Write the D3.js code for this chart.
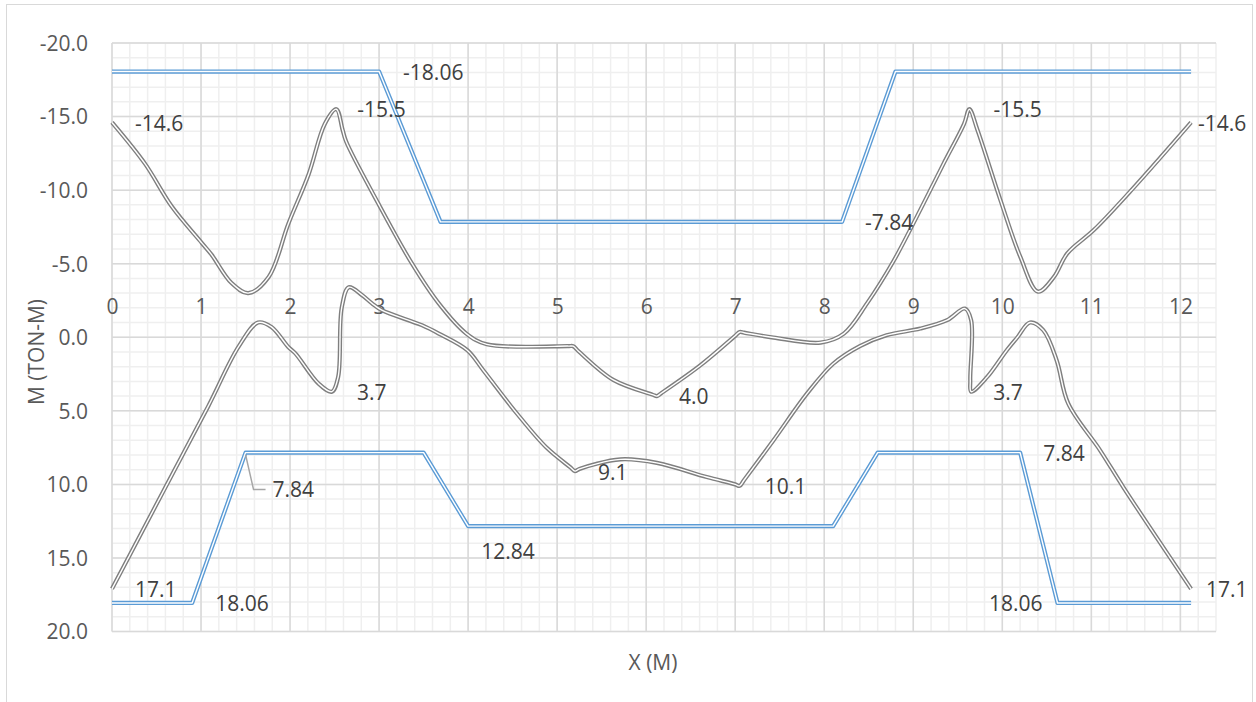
<!DOCTYPE html>
<html>
<head>
<meta charset="utf-8">
<script src="https://cdn.jsdelivr.net/npm/d3@7"></script>
<style>
  html, body { margin: 0; padding: 0; background: #fff; }
  svg { display: block; }
  text { font-family: "Open Sans", "Noto Sans", sans-serif; }
</style>
</head>
<body>
<svg id="chart" width="1256" height="702"></svg>
<script>
// ---- data -------------------------------------------------------------
// Envelope of negative moments (upper design line), X in m, M in ton-m
const envTopX = [0, 3.0, 3.69, 8.2, 8.8, 12.12];
const envTopM = [-18.06, -18.06, -7.84, -7.84, -18.06, -18.06];

// Envelope of positive moments (lower design line)
const envBotX = [0, 0.9, 1.5, 3.5, 4.0, 8.1, 8.6, 10.2, 10.62, 12.12];
const envBotM = [18.06, 18.06, 7.84, 7.84, 12.84, 12.84, 7.84, 7.84, 18.06, 18.06];

// Bending moment curve, upper branch
const curveAX = [0, 0.37, 0.67, 1.01, 1.12, 1.34, 1.53, 1.76, 1.98, 2.21, 2.39, 2.52, 2.59, 2.63,
  2.99, 3.37, 3.67, 3.98, 4.21, 5.13, 5.18, 5.24, 5.63, 6.07, 6.12, 6.17, 6.61, 7.0, 7.05, 7.1,
  7.43, 7.96, 8.22, 8.48, 8.78, 9.04, 9.34, 9.57, 9.63, 9.72, 9.98, 10.2, 10.40, 10.58, 10.73,
  11.03, 11.48, 12.12];
const curveAM = [-14.6, -11.8, -8.9, -6.4, -5.6, -3.7, -3.0, -4.1, -7.7, -11.1, -14.5, -15.5, -14.1, -13.3,
  -9.1, -5.0, -2.3, -0.25, 0.48, 0.6, 0.61, 0.95, 2.9, 3.9, 4.0, 3.8, 1.9, -0.1, -0.36, -0.31,
  0.02, 0.36, -0.25, -2.3, -5.2, -8.2, -11.8, -14.5, -15.5, -14.1, -9.3, -5.5, -3.1, -4.1, -5.7,
  -7.3, -10.2, -14.6];

// Bending moment curve, lower branch
const curveBX = [0, 0.6, 1.08, 1.42, 1.64, 1.79, 1.98, 2.06, 2.32, 2.47, 2.54, 2.58, 2.66, 2.81,
  2.92, 3.03, 3.48, 3.67, 3.99, 4.17, 4.55, 4.88, 5.15, 5.2, 5.25, 5.71, 6.12, 6.68, 7.0, 7.05,
  7.1, 7.43, 7.81, 8.10, 8.40, 8.70, 9.08, 9.38, 9.58, 9.65, 9.64, 9.65, 9.83, 10.05, 10.17,
  10.31, 10.46, 10.61, 10.74, 11.1, 11.36, 12.12];
const curveBM = [17.1, 10.2, 4.7, 0.66, -1.0, -0.7, 0.66, 1.1, 3.15, 3.7, 2.7, -2.0, -3.4, -2.86,
  -2.3, -1.84, -0.82, -0.25, 0.88, 2.24, 5.2, 7.5, 8.85, 9.1, 8.95, 8.3, 8.54, 9.5, 10.0, 10.1,
  9.7, 7.0, 3.8, 1.8, 0.6, -0.14, -0.59, -1.16, -1.95, -1.16, 2.9, 3.7, 2.7, 0.88, 0.0,
  -1.0, -0.48, 1.56, 4.5, 7.7, 10.2, 17.1];

// Value labels: text, anchor X (m), anchor M (ton-m)
const labelText = ["-14.6", "-15.5", "-18.06", "3.7", "-7.84", "-15.5", "-14.6", "3.7", "7.84",
  "17.1", "18.06", "17.1", "18.06", "7.84", "12.84", "9.1", "10.1", "4.0"];
const labelX = [0, 2.52, 3.0, 2.47, 8.2, 9.63, 12.12, 9.65, 10.2,
  12.12, 10.62, 0, 0.9, 1.5, 4.0, 5.2, 7.05, 6.12];
const labelM = [-14.6, -15.5, -18.06, 3.7, -7.84, -15.5, -14.6, 3.7, 7.84,
  17.1, 18.06, 17.1, 18.06, 7.84, 12.84, 9.1, 10.1, 4.0];

// Axis ticks
const xTicks = [0, 1, 2, 3, 4, 5, 6, 7, 8, 9, 10, 11, 12];
const yTicks = [-20, -15, -10, -5, 0, 5, 10, 15, 20];

// ---- layout ----------------------------------------------------------
const plot = { left: 112, top: 43, right: 1216, bottom: 631.5 };
// label offsets in px from their anchor point [dx, dy, anchor]
const labelOffset = [
  [23, 1, "start"], [21, 0, "start"], [24, 1, "start"], [25, 1, "start"], [23, 1, "start"],
  [24, 0, "start"], [7, 1, "start"], [22, 1, "start"], [23, 1, "start"],
  [15, 1, "start"], [-15, 1, "end"], [23, 1, "start"], [23, 1, "start"], [27, 37, "start"],
  [13, 25, "start"], [23, 2, "start"], [25, 1, "start"], [22, 1, "start"]
];

const svg = d3.select("#chart");

// chart area frame
svg.append("rect")
  .attr("x", 6.5).attr("y", 4.5).attr("width", 1246).attr("height", 720)
  .attr("fill", "#fff").attr("stroke", "#d9d9d9").attr("stroke-width", 1);

const x = d3.scaleLinear().domain([0, 12.4]).range([plot.left, plot.right]);
const y = d3.scaleLinear().domain([-20, 20]).range([plot.top, plot.bottom]);

// gridlines
const grid = svg.append("g");
const xMinor = d3.range(0, 12.4001, 0.2).map(v => +v.toFixed(1));
const yMinor = d3.range(-20, 20.001, 1);
grid.selectAll(".xm").data(xMinor).join("line")
  .attr("x1", d => x(d)).attr("x2", d => x(d))
  .attr("y1", plot.top).attr("y2", plot.bottom)
  .attr("stroke", "#efefef").attr("stroke-width", 1.5);
grid.selectAll(".ym").data(yMinor).join("line")
  .attr("y1", d => y(d)).attr("y2", d => y(d))
  .attr("x1", plot.left).attr("x2", plot.right)
  .attr("stroke", "#efefef").attr("stroke-width", 1.5);
grid.selectAll(".xM").data(xTicks).join("line")
  .attr("x1", d => x(d)).attr("x2", d => x(d))
  .attr("y1", plot.top).attr("y2", plot.bottom)
  .attr("stroke", "#d9d9d9").attr("stroke-width", 1.5);
grid.selectAll(".yM").data(yTicks).join("line")
  .attr("y1", d => y(d)).attr("y2", d => y(d))
  .attr("x1", plot.left).attr("x2", plot.right)
  .attr("stroke", "#d9d9d9").attr("stroke-width", 1.5);

// axes text (plain hyphen for negatives)
const fmt1 = v => d3.format(".1f")(v).replace("\u2212", "-");
const yAxis = d3.axisLeft(y).tickValues(yTicks).tickFormat(fmt1).tickSize(0).tickPadding(0);
const gy = svg.append("g").attr("transform", `translate(${plot.left - 24},0)`).call(yAxis);
gy.select(".domain").remove();
gy.selectAll("text").attr("fill", "#595959").attr("font-size", 21)
  .attr("font-family", "'Open Sans', sans-serif").attr("dy", "0.35em");

const xAxis = d3.axisTop(x).tickValues(xTicks).tickFormat(d3.format("d")).tickSize(0).tickPadding(0);
const gx = svg.append("g").attr("transform", `translate(0,${y(0) - 31})`).call(xAxis);
gx.select(".domain").remove();
gx.selectAll("text").attr("fill", "#595959").attr("font-size", 21)
  .attr("font-family", "'Open Sans', sans-serif").attr("dy", "0.35em");

svg.append("text")
  .attr("transform", `translate(37,352) rotate(-90)`)
  .attr("text-anchor", "middle").attr("dy", "0.35em")
  .attr("fill", "#595959").attr("font-size", 21)
  .text("M (TON-M)");
svg.append("text")
  .attr("x", 653).attr("y", 663)
  .attr("text-anchor", "middle").attr("dy", "0.35em")
  .attr("fill", "#595959").attr("font-size", 21)
  .text("X (M)");

// ---- series ----------------------------------------------------------
function doubleLine(xs, ms, color, curve) {
  const pts = xs.map((v, i) => [v, ms[i]]);
  const line = d3.line().x(d => x(d[0])).y(d => y(d[1])).curve(curve);
  const g = svg.append("g");
  g.append("path").attr("d", line(pts)).attr("fill", "none")
    .attr("stroke", color).attr("stroke-width", 4.2).attr("stroke-linejoin", "round");
  g.append("path").attr("d", line(pts)).attr("fill", "none")
    .attr("stroke", "#fff").attr("stroke-width", 1.4).attr("stroke-linejoin", "round");
}

const smooth = d3.curveCatmullRom.alpha(0.5);
doubleLine(envTopX, envTopM, "#5b9bd5", d3.curveLinear);
doubleLine(envBotX, envBotM, "#5b9bd5", d3.curveLinear);
doubleLine(curveAX, curveAM, "#7f7f7f", smooth);
doubleLine(curveBX, curveBM, "#7f7f7f", smooth);

// ---- value labels ----------------------------------------------------
const labels = svg.append("g");
labelText.forEach((t, i) => {
  const [dx, dy, anchor] = labelOffset[i];
  const px = x(labelX[i]), py = y(labelM[i]);
  if (i === 13) {
    // leader line from the envelope corner to its label
    labels.append("path")
      .attr("d", `M${px},${py + 2} L${px + 8},${py + dy} L${px + dx - 7},${py + dy}`)
      .attr("fill", "none").attr("stroke", "#a6a6a6").attr("stroke-width", 1.5);
  }
  labels.append("text")
    .attr("x", px + dx).attr("y", py + dy)
    .attr("dy", "0.35em").attr("text-anchor", anchor)
    .attr("fill", "#404040").attr("font-size", 21)
    .text(t);
});
</script>
</body>
</html>
